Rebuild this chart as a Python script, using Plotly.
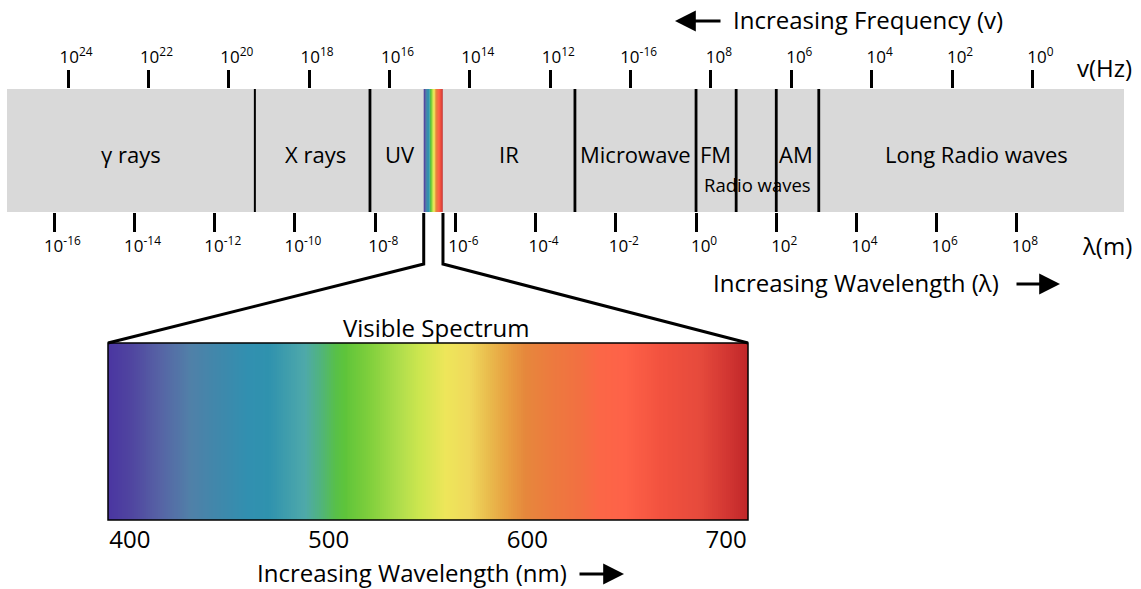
import numpy as np
import plotly.graph_objects as go

W, H = 1141, 589
FONT = "Open Sans"

# ---------------- data ----------------
wl_exponents = [-16, -14, -12, -10, -8, -6, -4, -2, 0, 2, 4, 6, 8]
wl_tick_labels = ["10<sup>%d</sup>" % e for e in wl_exponents]
freq_exponents = [24, 22, 20, 18, 16, 14, 12, 10, 8, 6, 4, 2, 0]
freq_tick_labels = ["10<sup>24</sup>", "10<sup>22</sup>", "10<sup>20</sup>", "10<sup>18</sup>",
                    "10<sup>16</sup>", "10<sup>14</sup>", "10<sup>12</sup>", "10<sup>-16</sup>",
                    "10<sup>8</sup>", "10<sup>6</sup>", "10<sup>4</sup>", "10<sup>2</sup>",
                    "10<sup>0</sup>"]
band_edges = [-11.0, -8.13, -3.02, 0.0, 1.0, 2.0, 3.06]          # log10(wavelength / m)
band_names = ["γ rays", "X rays", "UV", "IR", "Microwave", "FM", "AM", "Long Radio waves"]
band_centers = [-14.09, -9.50, -7.39, -4.66, -1.50, 0.49, 2.50, 7.00]
radio_label = "Radio waves"
radio_center = 1.54
visible_band = [-6.79, -6.31]                                    # log10(wavelength / m)
visible_nm_ticks = [400, 500, 600, 700]
visible_nm_range = [389, 711]
spectrum_nm = [389, 401, 415, 430, 445, 460, 470, 481, 488, 496, 503, 508, 521, 536,
               546, 559, 571, 581, 589, 599, 611, 626, 637, 649, 667, 687, 702, 711]
spectrum_colors = ["#4a35a1", "#5046a0", "#5663a5", "#5180a8", "#3f88ab", "#3190b0",
                   "#2f92ae", "#43a0ac", "#4ea9aa", "#50b47c", "#57bf4a", "#5ec43a",
                   "#80cf3c", "#b0de4c", "#cde64f", "#eee65a", "#efd85c", "#e9b94c",
                   "#e8a242", "#e6883c", "#ec7b3e", "#f27041", "#fc6647", "#fe6248",
                   "#f2523f", "#e64a3c", "#d03431", "#bf2629"]

# ---------------- layout geometry (pixels) ----------------
def px_x(p):
    return p / W

def px_y(p):
    return 1 - p / H

bar_dom_x = [px_x(7), px_x(1124)]
bar_dom_y = [px_y(212), px_y(89)]
wl_range = [-17.18, 10.67]
freq_range = [25.52, -2.28]
vis_dom_x = [px_x(108), px_x(748)]
vis_dom_y = [px_y(520), px_y(343)]

lo, hi = visible_nm_range
colorscale = [[(n - lo) / (hi - lo), c] for n, c in zip(spectrum_nm, spectrum_colors)]

n_steps = hi - lo
nm_edges = np.linspace(lo, hi, n_steps + 1)
nm_centers = (nm_edges[:-1] + nm_edges[1:]) / 2
strip_edges = np.linspace(visible_band[0], visible_band[1], n_steps + 1)

fig = go.Figure()

# visible strip inside the top bar
fig.add_trace(go.Heatmap(x=strip_edges, y=[0, 1], z=[nm_centers], zmin=lo, zmax=hi,
                         colorscale=colorscale, showscale=False, hoverinfo="skip",
                         xaxis="x", yaxis="y"))
# invisible trace to activate the frequency axis
fig.add_trace(go.Scatter(x=[freq_exponents[0]], y=[-1], mode="markers",
                         marker=dict(opacity=0), hoverinfo="skip", showlegend=False,
                         xaxis="x2", yaxis="y"))
# visible spectrum box
fig.add_trace(go.Heatmap(x=nm_edges, y=[0, 1], z=[nm_centers], zmin=lo, zmax=hi,
                         colorscale=colorscale, showscale=False, hoverinfo="skip",
                         xaxis="x3", yaxis="y3"))

tickfont = dict(family=FONT, size=17, color="black")
fig.update_layout(
    width=W, height=H,
    margin=dict(l=0, r=0, t=0, b=0, autoexpand=False),
    paper_bgcolor="white", plot_bgcolor="rgba(0,0,0,0)",
    showlegend=False,
    xaxis=dict(domain=bar_dom_x, range=wl_range, anchor="y",
               tickvals=wl_exponents, ticktext=wl_tick_labels,
               ticks="outside", ticklen=19, tickwidth=2.5, tickcolor="black",
               showgrid=False, zeroline=False, showline=False, tickfont=tickfont,
               ticklabelshift=8, ticklabelstandoff=0),
    xaxis2=dict(overlaying="x", side="top", anchor="y", range=freq_range,
                tickvals=freq_exponents, ticktext=freq_tick_labels,
                ticks="outside", ticklen=18, tickwidth=2.5, tickcolor="black",
                showgrid=False, zeroline=False, showline=False, tickfont=tickfont,
                ticklabelshift=-8, ticklabelstandoff=0),
    yaxis=dict(domain=bar_dom_y, range=[0, 1], visible=False, fixedrange=True),
    xaxis3=dict(domain=vis_dom_x, range=visible_nm_range, anchor="y3",
                tickvals=visible_nm_ticks, ticks="", showgrid=False, zeroline=False,
                showline=False, ticklabelstandoff=3,
                tickfont=dict(family=FONT, size=24, color="black")),
    yaxis3=dict(domain=vis_dom_y, range=[0, 1], visible=False, anchor="x3"),
)

shapes = []
# grey bar background
shapes.append(dict(type="rect", xref="x domain", yref="y domain", x0=0, x1=1, y0=0, y1=1,
                   fillcolor="#d9d9d9", line=dict(width=0), layer="below"))
# band dividers
for i, e in enumerate(band_edges):
    shapes.append(dict(type="line", xref="x", yref="y", x0=e, x1=e, y0=0, y1=1,
                       line=dict(color="black", width=2 if i == 0 else 2.8)))
# visible box outline
shapes.append(dict(type="rect", xref="x3 domain", yref="y3 domain", x0=0, x1=1, y0=0, y1=1,
                   line=dict(color="black", width=1.5)))

# connector from strip to visible box
def data_to_paper(v, dom, rng):
    return dom[0] + (v - rng[0]) / (rng[1] - rng[0]) * (dom[1] - dom[0])

sx0 = data_to_paper(visible_band[0], bar_dom_x, wl_range)
sx1 = data_to_paper(visible_band[1], bar_dom_x, wl_range)
bx0, bx1 = vis_dom_x
ys0 = px_y(213)
yk = px_y(264)
yb = vis_dom_y[1]
shapes.append(dict(type="path", xref="paper", yref="paper",
                   path=f"M{sx0},{ys0} L{sx0},{yk} L{bx0},{yb}",
                   line=dict(color="black", width=3)))
shapes.append(dict(type="path", xref="paper", yref="paper",
                   path=f"M{sx1},{ys0} L{sx1},{yk} L{bx1},{yb}",
                   line=dict(color="black", width=3)))
fig.update_layout(shapes=shapes)

ann = []
for name, c in zip(band_names, band_centers):
    ann.append(dict(x=c, y=0.47, xref="x", yref="y", text=name, showarrow=False,
                    xanchor="center", yanchor="middle",
                    font=dict(family=FONT, size=22, color="black")))
ann.append(dict(x=radio_center, y=0.225, xref="x", yref="y", text=radio_label, showarrow=False,
                xanchor="center", yanchor="middle",
                font=dict(family=FONT, size=18.5, color="black")))

big = dict(family=FONT, size=24, color="black")
def label(x, y, text, anchor="left"):
    return dict(x=px_x(x), y=px_y(y), xref="paper", yref="paper", xanchor=anchor,
                yanchor="middle", text=text, showarrow=False, font=big)

def arrow(xhead, y, dx):
    return dict(x=px_x(xhead), y=px_y(y), xref="paper", yref="paper", ax=dx, ay=0, text="",
                showarrow=True, arrowhead=2, arrowsize=1.3, arrowwidth=3.2,
                arrowcolor="black")

ann += [
    label(1075, 68, "v(Hz)"),
    label(1080, 245, "λ(m)"),
    label(731, 20, "Increasing Frequency (v)"),
    label(711, 282, "Increasing Wavelength (λ)"),
    label(436, 327, "Visible Spectrum", "center"),
    label(255, 572, "Increasing Wavelength (nm)"),
    arrow(675, 21, 47),
    arrow(1060, 284, -45),
    arrow(624, 574, -46),
]
fig.update_layout(annotations=ann)

fig.write_html("out.html", config={"displayModeBar": False},
               post_script="document.body.style.margin='0';document.body.style.overflow='hidden';")
